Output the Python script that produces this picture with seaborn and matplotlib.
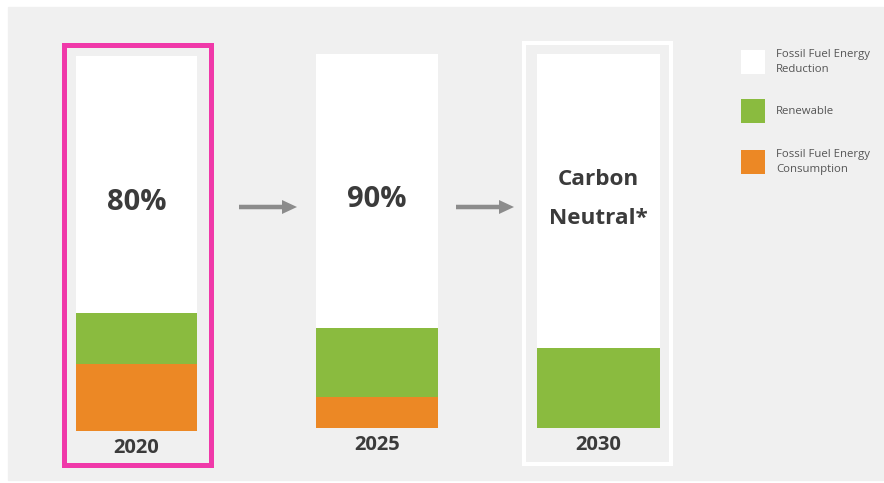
import pandas as pd
import matplotlib.pyplot as plt
import seaborn as sns
from matplotlib.patches import Rectangle, FancyArrow

sns.set_style("white")
plt.rcParams['font.family'] = ['Open Sans', 'DejaVu Sans']

# data (share of each bar, in %)
years = ["2020", "2025", "2030"]
consumption = [18, 8.3, 0]
renewable = [13.6, 18.4, 21.4]
reduction = [100 - c - r for c, r in zip(consumption, renewable)]
headlines = ["80%", "90%", "Carbon\nNeutral*"]
legend_labels = ["Fossil Fuel Energy\nReduction", "Renewable", "Fossil Fuel Energy\nConsumption"]

df = pd.DataFrame({"year": years, "consumption": consumption,
                   "renewable": renewable, "reduction": reduction})
df["green_top"] = df["consumption"] + df["renewable"]
df["total"] = df["green_top"] + df["reduction"]

W, H = 884, 483
c_white, c_green, c_orange = "#ffffff", "#8abb3f", "#ec8825"
text_dark = "#3b3b3b"

fig = plt.figure(figsize=(W / 100, H / 100), dpi=100)

# overlay in pixel coords for background, boxes, arrows, legend
ov = fig.add_axes([0, 0, 1, 1])
ov.set_xlim(0, W)
ov.set_ylim(H, 0)
ov.axis("off")
ov.add_patch(Rectangle((8, 7), W - 9, 473, color="#f0f0f0", zorder=0))
ov.add_patch(Rectangle((63.5, 44.5), 147, 420, fill=False, ec="#f039a9", lw=3.6))
ov.add_patch(Rectangle((524, 43), 147, 421, fill=False, ec="white", lw=2.9))
for x0 in [239, 456]:
    ov.add_patch(FancyArrow(x0, 207, 58, 0, width=4.5, head_width=14, head_length=15,
                            length_includes_head=True, color="#8c8c8c", lw=0))

# legend
for (y0, col, lab) in zip([50, 99, 150], [c_white, c_green, c_orange], legend_labels):
    ov.add_patch(Rectangle((741, y0), 24, 24, color=col, lw=0))
    ov.text(776, y0 + 12, lab, fontsize=8.2, color="#555555", va="center", ha="left",
            linespacing=1.5)

# one axes per bar (pixel extents: left, right, top, bottom)
extents = [(76, 197, 56, 431), (316, 438, 54, 428), (537, 660, 54, 428)]
for i, (l, r, t, b) in enumerate(extents):
    ax = fig.add_axes([l / W, (H - b) / H, (r - l) / W, (b - t) / H])
    ax.patch.set_alpha(0)
    sub = df.iloc[[i]]
    sns.barplot(data=sub, x="year", y="total", color=c_white, width=1, saturation=1,
                linewidth=0, ax=ax)
    sns.barplot(data=sub, x="year", y="green_top", color=c_green, width=1, saturation=1,
                linewidth=0, ax=ax)
    if sub["consumption"].iloc[0] > 0:
        sns.barplot(data=sub, x="year", y="consumption", color=c_orange, width=1,
                    saturation=1, linewidth=0, ax=ax)
    ax.set_xlim(-0.5, 0.5)
    ax.set_ylim(0, 100)
    ax.axis("off")
    if i < 2:
        ax.text(0.5, 0.61, headlines[i], transform=ax.transAxes, ha="center", va="center",
                fontsize=21, fontweight="bold", color=text_dark)
    else:
        ax.text(0.5, 0.613, headlines[i], transform=ax.transAxes, ha="center", va="center",
                fontsize=16.2, fontweight="bold", color=text_dark, linespacing=2.15)
    ax.text(0.5, -0.045, years[i], transform=ax.transAxes, ha="center", va="center",
            fontsize=14.5, fontweight="bold", color=text_dark)

fig.savefig("out.png", dpi=100, facecolor="white")
